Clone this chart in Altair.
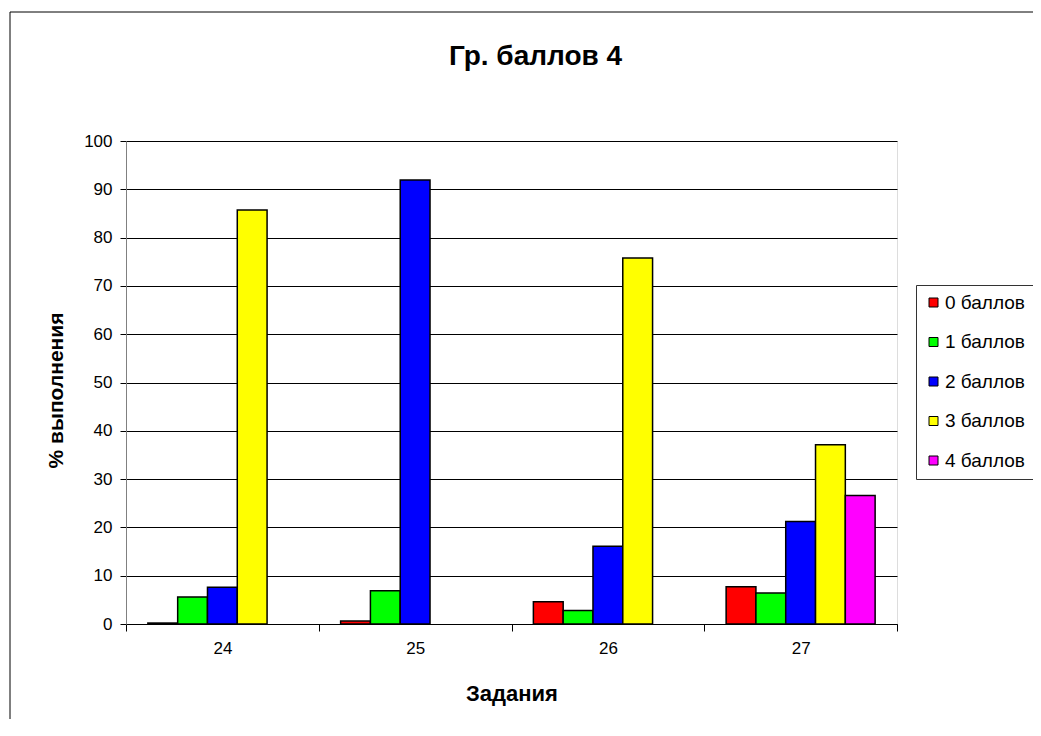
import altair as alt
import pandas as pd

tasks = ["24", "25", "26", "27"]
series = ["0 баллов", "1 баллов", "2 баллов", "3 баллов", "4 баллов"]
s0 = [0.2, 0.6, 4.6, 7.7]
s1 = [5.6, 6.9, 2.8, 6.4]
s2 = [7.6, 91.9, 16.1, 21.2]
s3 = [85.7, 0.0, 75.8, 37.1]
s4 = [0.0, 0.0, 0.0, 26.6]
colors = ["#FF0000", "#00FF00", "#0000FF", "#FFFF00", "#FF00FF"]
y_ticks = [0, 10, 20, 30, 40, 50, 60, 70, 80, 90, 100]

rows = []
for name, vals in zip(series, [s0, s1, s2, s3, s4]):
    for t, v in zip(tasks, vals):
        if v > 0:
            rows.append({"task": t, "series": name, "value": v})
df = pd.DataFrame(rows)

W, H = 771, 483
FONT = "Liberation Sans"

bars = alt.Chart(df).mark_bar(stroke="black", strokeWidth=1.5).encode(
    x=alt.X(
        "task:N",
        sort=tasks,
        scale=alt.Scale(domain=tasks, paddingInner=0, paddingOuter=0),
        axis=alt.Axis(
            title="Задания", labelAngle=0, tickBand="extent", grid=False,
            domainColor="black", tickColor="black", tickSize=7,
            labelPadding=9, labelFontSize=17, labelColor="black", labelFont=FONT,
            titleFont=FONT, titleFontSize=22, titleFontWeight="bold",
            titleColor="black", titlePadding=27,
        ),
    ),
    xOffset=alt.XOffset(
        "series:N",
        scale=alt.Scale(domain=series, paddingInner=0, paddingOuter=0.734),
    ),
    y=alt.Y(
        "value:Q",
        scale=alt.Scale(domain=[0, 100]),
        axis=alt.Axis(
            title="% выполнения", values=y_ticks, grid=True, gridColor="black",
            gridWidth=1, gridOpacity=1, domainColor="#808080", tickColor="black",
            tickSize=6, labelPadding=8, labelFontSize=17, labelColor="black",
            labelFont=FONT, titleFont=FONT, titleFontSize=21, titleFontWeight="bold",
            titleColor="black", titlePadding=17, titleY=249,
        ),
    ),
    color=alt.Color(
        "series:N",
        scale=alt.Scale(domain=series, range=colors),
        legend=alt.Legend(
            title=None, orient="none", legendX=790, legendY=144,
            symbolType="square", symbolSize=81, symbolStrokeColor="black",
            symbolStrokeWidth=1, labelFontSize=19, labelFont=FONT,
            labelColor="black", labelOffset=2, rowPadding=19.5, padding=8,
            labelLimit=200, strokeColor="#333333", fillColor="white",
        ),
    ),
)

frame_left = alt.Chart(alt.Data(values=[{}])).mark_rule(color="#000000", strokeWidth=1).encode(
    x=alt.value(-116), y=alt.value(-129), y2=alt.value(H + 200)
)
frame_top = alt.Chart(alt.Data(values=[{}])).mark_rule(color="#000000", strokeWidth=1).encode(
    x=alt.value(-116), x2=alt.value(W + 300), y=alt.value(-129)
)

chart = alt.layer(bars, frame_left, frame_top).properties(
    width=W,
    height=H,
    title=alt.TitleParams(
        "Гр. баллов 4", fontSize=28, font=FONT, fontWeight="bold",
        anchor="middle", dx=24, offset=-59, color="black",
    ),
    autosize=alt.AutoSizeParams(type="none"),
    padding={"left": 118, "top": 133, "right": 136, "bottom": 95},
).configure_view(stroke="#808080", strokeWidth=1).configure(background="white")

chart.save("out.html", embed_options={"renderer": "svg", "actions": False})
